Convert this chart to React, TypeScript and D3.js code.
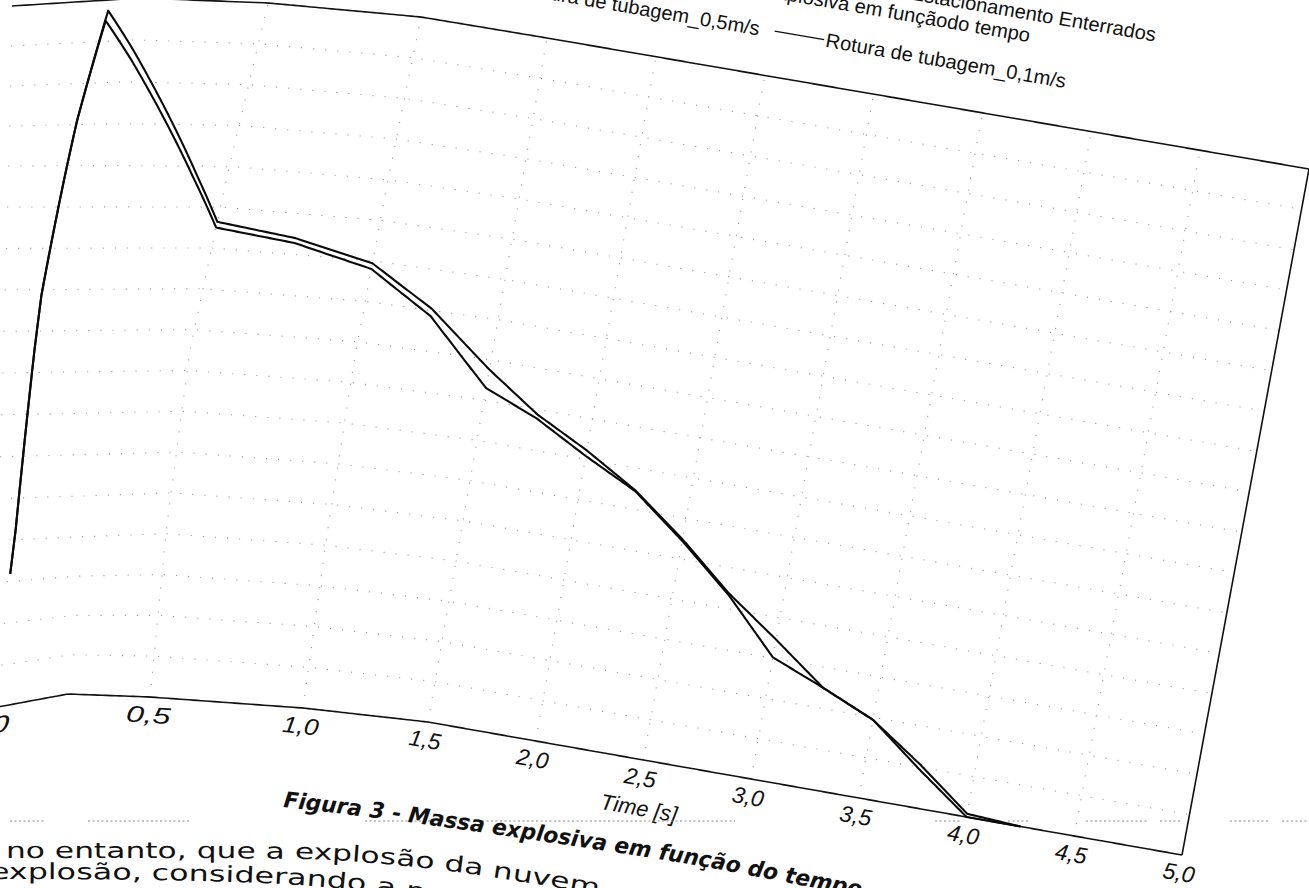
import React from "react";
import * as d3 from "d3";

// ---------------- data ----------------
const SERIES_NAMES = ["Rotura de tubagem_0,5m/s", "Rotura de tubagem_0,1m/s"];
const TIME_05 = [0.045, 0.093, 0.147, 0.19, 0.5, 0.75, 1.0, 1.25, 1.5, 1.75, 2.0, 2.25, 2.5, 2.75, 3.0, 3.25, 3.5, 3.75, 4.0, 4.25];
const MASS_05 = [159, 493, 705, 837, 582, 570, 547, 502, 438, 394, 361, 323, 274, 219, 173, 125, 97, 53, 4, 0];
const TIME_01 = [0.045, 0.093, 0.147, 0.187, 0.5, 0.75, 1.0, 1.25, 1.5, 1.75, 2.0, 2.25, 2.5, 2.75, 3.0, 3.25, 3.5, 3.75, 4.0, 4.25];
const MASS_01 = [159, 493, 705, 825, 575, 564, 540, 493, 415, 389, 354, 322, 272, 217, 151, 125, 97, 47, 0, 0];

const X_TICKS = [0, 0.5, 1, 1.5, 2, 2.5, 3, 3.5, 4, 4.5, 5];
const X_TICK_LABELS = ["0,0", "0,5", "1,0", "1,5", "2,0", "2,5", "3,0", "3,5", "4,0", "4,5", "5,0"];
const Y_GRID = [50, 100, 150, 200, 250, 300, 350, 400, 450, 500, 550, 600, 650, 700, 750, 800];
const X_DOMAIN = [0, 5];
const Y_DOMAIN = [0, 850];

const TITLE_LINES = ["Rotura de Tubagem - Parques de Estacionamento Enterrados", "Massa explosiva em funçãodo tempo"];
const X_TITLE = "Time [s]";
const CAPTION = "Figura 3 - Massa explosiva em função do tempo";
const BODY_LINES = ["no entanto, que a explosão da nuvem", "explosão, considerando a nuvem"];

// ---------------- nominal chart frame ----------------
const NOM_W = 1100;
const NOM_H = 700;
const xScale = d3.scaleLinear().domain(X_DOMAIN).range([0, NOM_W]);
const yScale = d3.scaleLinear().domain(Y_DOMAIN).range([NOM_H, 0]);
const uScale = d3.scaleLinear().domain([0, NOM_W]).range(X_DOMAIN); // nominal px -> time
const vScale = d3.scaleLinear().domain([NOM_H, 0]).range([0, 1]); // nominal px -> fraction of height

// photographed-page distortion: control grid (columns in time, rows in height fraction)
const T_KNOTS = [0, 0.25, 0.5, 1, 1.5, 2, 2.5, 3, 3.5, 4, 4.5, 5];
const V_KNOTS = [0, 0.25, 0.5, 0.75, 1];
const LEFT_COLUMNS: [number, number][][] = [
  [[-13, 709], [-2, 530], [3, 352], [8, 176], [12, 6]],
  [[68, 694], [82, 527], [97, 351], [117.5, 176], [140, -2]],
  [[150, 697], [167, 523.5], [190, 350], [227, 176.5], [268, 3]],
  [[303, 708], [327, 535], [354, 362], [386, 190], [421, 17]],
];
const bottomEdge = d3.scaleLinear().domain([1.5, 5]).range([0, 1]);
const B0: [number, number] = [428, 722];
const B1: [number, number] = [1182, 855];
const TP0: [number, number] = [547, 38];
const TP1: [number, number] = [1309, 169];
const GRID: [number, number][][] = T_KNOTS.map((t, i) => {
  if (i < LEFT_COLUMNS.length) return LEFT_COLUMNS[i];
  const f = bottomEdge(t);
  const b = [B0[0] + f * (B1[0] - B0[0]), B0[1] + f * (B1[1] - B0[1])];
  const tp = [TP0[0] + f * (TP1[0] - TP0[0]), TP0[1] + f * (TP1[1] - TP0[1])];
  return V_KNOTS.map((v) => [b[0] + v * (tp[0] - b[0]), b[1] + v * (tp[1] - b[1])] as [number, number]);
});

function seg(knots: number[], val: number): [number, number] {
  let i = d3.bisectRight(knots, val) - 1;
  i = Math.max(0, Math.min(knots.length - 2, i));
  return [i, (val - knots[i]) / (knots[i + 1] - knots[i])];
}

function warp(px: number, py: number): [number, number] {
  const t = uScale(px);
  const v = vScale(py);
  const [i, a] = seg(T_KNOTS, t);
  const [j, b] = seg(V_KNOTS, v);
  const p00 = GRID[i][j], p10 = GRID[i + 1][j], p01 = GRID[i][j + 1], p11 = GRID[i + 1][j + 1];
  const w00 = (1 - a) * (1 - b), w10 = a * (1 - b), w01 = (1 - a) * b, w11 = a * b;
  return [
    w00 * p00[0] + w10 * p10[0] + w01 * p01[0] + w11 * p11[0],
    w00 * p00[1] + w10 * p10[1] + w01 * p01[1] + w11 * p11[1],
  ];
}

const lineGen = d3.line<[number, number]>().x((d) => d[0]).y((d) => d[1]);

function warpPath(pts: [number, number][], step = 3): string {
  const out: [number, number][] = [];
  for (let k = 0; k < pts.length - 1; k++) {
    const [x0, y0] = pts[k];
    const [x1, y1] = pts[k + 1];
    const n = Math.max(1, Math.ceil(Math.hypot(x1 - x0, y1 - y0) / step));
    for (let s = 0; s < n; s++) out.push(warp(x0 + ((x1 - x0) * s) / n, y0 + ((y1 - y0) * s) / n));
  }
  const last = pts[pts.length - 1];
  out.push(warp(last[0], last[1]));
  return lineGen(out) || "";
}

function affine(px: number, py: number): string {
  const p = warp(px, py);
  const a = warp(px + 1, py);
  const b = warp(px, py + 1);
  return `matrix(${a[0] - p[0]},${a[1] - p[1]},${b[0] - p[0]},${b[1] - p[1]},${p[0]},${p[1]})`;
}

// page text baselines (photographed page)
const captionLine = d3.line<[number, number]>().curve(d3.curveCatmullRom);
const CAPTION_BASE: [number, number][] = [[283, 807], [400, 821], [560, 844], [700, 866], [820, 889], [940, 912]];
const BODY_BASE_1: [number, number][] = [[6, 858], [300, 859], [360, 862], [450, 871], [510, 880], [570, 890], [700, 915]];
const BODY_BASE_2: [number, number][] = [[-10, 879], [150, 880], [300, 885], [380, 893], [450, 904], [560, 925]];
const RULE_Y = 821;
const RULE_SEGMENTS: [number, number][] = [[10, 45], [88, 190], [365, 735], [935, 962], [1008, 1030], [1086, 1147], [1160, 1182], [1230, 1270], [1282, 1309]];

export default function App() {
  const W = 1309;
  const H = 888;
  const series = [
    { name: SERIES_NAMES[0], t: TIME_05, m: MASS_05 },
    { name: SERIES_NAMES[1], t: TIME_01, m: MASS_01 },
  ];
  const font = "'Liberation Sans', Arial, sans-serif";
  const pageFont = "'DejaVu Sans', Verdana, sans-serif";

  return (
    <svg
      width={W}
      height={H}
      viewBox={`0 0 ${W} ${H}`}
      style={{ position: "absolute", left: 0, top: 0, background: "#fff", display: "block" }}
    >
      <defs>
        <path id="capPath" d={captionLine(CAPTION_BASE) || ""} />
        <path id="body1" d={captionLine(BODY_BASE_1) || ""} />
        <path id="body2" d={captionLine(BODY_BASE_2) || ""} />
      </defs>
      <rect x={0} y={0} width={W} height={H} fill="#fff" />

      {/* grid (faint, sparse dots as in the scan) */}
      <g stroke="#9a9a9a" strokeWidth={1.1} strokeDasharray="1.1 11" fill="none">
        {Y_GRID.map((g) => (
          <path key={"h" + g} d={warpPath([[xScale(0), yScale(g)], [xScale(5), yScale(g)]])} />
        ))}
        {X_TICKS.slice(1, -1).map((t) => (
          <path key={"v" + t} d={warpPath([[xScale(t), yScale(0)], [xScale(t), yScale(850)]])} />
        ))}
      </g>

      {/* frame */}
      <g stroke="#111" strokeWidth={1.6} fill="none">
        <path d={warpPath([[xScale(0), yScale(0)], [xScale(5), yScale(0)]])} />
        <path d={warpPath([[xScale(0), yScale(850)], [xScale(5), yScale(850)]])} />
        <path d={warpPath([[xScale(5), yScale(0)], [xScale(5), yScale(850)]])} />
      </g>

      {/* series */}
      <g stroke="#0a0a0a" strokeWidth={2.1} fill="none" strokeLinejoin="round">
        {series.map((s) => (
          <path key={s.name} d={warpPath(s.t.map((t, i) => [xScale(t), yScale(s.m[i])] as [number, number]))} />
        ))}
      </g>

      {/* x tick labels */}
      <g fontFamily={font} fontSize={23} fontStyle="italic" fill="#111" textAnchor="middle">
        {X_TICKS.map((t, i) => (
          <text key={"xl" + t} transform={affine(xScale(t), NOM_H + 26)}>
            {X_TICK_LABELS[i]}
          </text>
        ))}
      </g>
      <text transform={affine(xScale(2.5) + 4, NOM_H + 56)} fontFamily={font} fontSize={22} fontStyle="italic" fill="#111" textAnchor="middle">
        {X_TITLE}
      </text>

      {/* title */}
      <g fontFamily={font} fontSize={20} fill="#111" textAnchor="end">
        <text transform={affine(926, -100)}>{TITLE_LINES[0]}</text>
        <text transform={affine(803, -78)}>{TITLE_LINES[1]}</text>
      </g>

      {/* legend */}
      <g fontFamily={font} fontSize={20} fill="#111">
        <path d={warpPath([[243, -45.6], [293, -45.6]])} stroke="#111" strokeWidth={1.4} fill="none" />
        <text transform={affine(537, -38.6)} textAnchor="end">{SERIES_NAMES[0]}</text>
        <path d={warpPath([[552, -45.6], [602, -45.6]])} stroke="#111" strokeWidth={1.4} fill="none" />
        <text transform={affine(604, -38.6)}>{SERIES_NAMES[1]}</text>
      </g>

      {/* page: dotted rule, caption, body text */}
      <g stroke="#8a8a8a" strokeWidth={1} strokeDasharray="2 2.5">
        {RULE_SEGMENTS.map(([a, b]) => (
          <line key={"r" + a} x1={a} x2={b} y1={RULE_Y} y2={RULE_Y} />
        ))}
      </g>
      <text fontFamily={pageFont} fontSize={22} fontWeight="bold" fontStyle="italic" fill="#111">
        <textPath href="#capPath" textLength={585} lengthAdjust="spacingAndGlyphs">
          {CAPTION}
        </textPath>
      </text>
      <text fontFamily={pageFont} fontSize={22} fill="#111">
        <textPath href="#body1" textLength={595} lengthAdjust="spacingAndGlyphs">
          {BODY_LINES[0]}
        </textPath>
      </text>
      <text fontFamily={pageFont} fontSize={22} fill="#111">
        <textPath href="#body2" textLength={525} lengthAdjust="spacingAndGlyphs">
          {BODY_LINES[1]}
        </textPath>
      </text>
    </svg>
  );
}
